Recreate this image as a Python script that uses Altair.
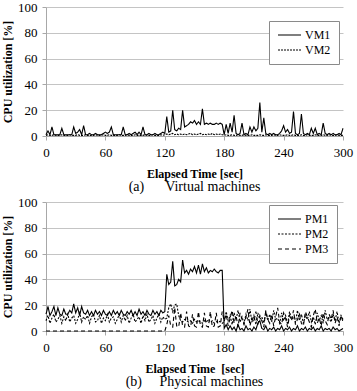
import altair as alt
import pandas as pd

STEP = 2  # seconds between samples
X_TICKS = [0, 60, 120, 180, 240, 300]
Y_TICKS = [0, 20, 40, 60, 80, 100]
VM_NAMES = ["VM1", "VM2"]
PM_NAMES = ["PM1", "PM2", "PM3"]

VM1 = [1, 4, 1, 7, 1, 1, 1, 1, 6, 1,
       1, 1, 1, 1, 7, 2, 3, 5, 1, 8,
       1, 1, 2, 1, 1, 2, 1, 1, 1, 2,
       3, 2, 3, 7, 1, 1, 1, 1, 1, 7,
       1, 1, 2, 1, 2, 3, 1, 3, 1, 7,
       1, 1, 2, 1, 1, 2, 1, 1, 2, 3,
       2, 15, 3, 4, 20, 5, 4, 6, 5, 20,
       7, 8, 9, 11, 10, 12, 9, 11, 9, 21,
       9, 10, 9, 10, 9, 9, 10, 9, 10, 9,
       1, 9, 2, 10, 3, 16, 2, 1, 2, 10,
       1, 2, 1, 7, 3, 7, 4, 6, 26, 3,
       14, 2, 1, 2, 1, 2, 1, 1, 2, 4,
       8, 3, 5, 2, 3, 19, 2, 1, 2, 17,
       2, 1, 2, 1, 6, 2, 6, 1, 2, 1,
       10, 2, 1, 2, 1, 2, 1, 1, 2, 1,
       6]

VM2 = [0.5, 1, 0.5, 0.5, 1, 0.5, 0.5, 0.5, 1, 0.5,
       0.5, 0.5, 1, 0.5, 0.5, 0.5, 1, 0.5, 0.5, 0.5,
       1, 0.5, 0.5, 0.5, 0.5, 1, 0.5, 0.5, 0.5, 1,
       0.5, 0.5, 1, 0.5, 0.5, 0.5, 0.5, 1, 0.5, 0.5,
       0.5, 1, 0.5, 0.5, 0.5, 1, 0.5, 0.5, 0.5, 0.5,
       1, 0.5, 0.5, 0.5, 1, 0.5, 0.5, 0.5, 1, 0.5,
       1, 1.5, 1, 1.5, 2, 1, 1.5, 1, 1.5, 1,
       1.5, 1, 1.5, 2, 1, 1.5, 1, 1.5, 2, 1,
       1.5, 1, 1.5, 1, 2, 1, 1.5, 1, 1.5, 1,
       0.5, 1, 0.5, 0.5, 1, 0.5, 0.5, 1, 0.5, 0.5,
       1, 0.5, 0.5, 0.5, 1, 0.5, 0.5, 0.5, 1, 0.5,
       0.5, 1, 0.5, 0.5, 0.5, 1, 0.5, 0.5, 1, 0.5,
       0.5, 0.5, 1, 0.5, 0.5, 1, 0.5, 0.5, 0.5, 1,
       0.5, 0.5, 1, 0.5, 0.5, 0.5, 1, 0.5, 0.5, 0.5,
       1, 0.5, 0.5, 1, 0.5, 0.5, 0.5, 1, 0.5, 0.5,
       0.5]

PM1 = [13, 19, 12, 15, 19, 12, 18, 13, 12, 17,
       13, 13, 16, 14, 21, 14, 18, 12, 19, 14,
       13, 16, 12, 15, 12, 16, 13, 15, 12, 16,
       13, 12, 15, 12, 16, 13, 15, 12, 16, 13,
       12, 15, 13, 16, 12, 15, 12, 17, 13, 15,
       12, 16, 13, 12, 16, 13, 15, 12, 16, 14,
       15, 44, 36, 38, 54, 35, 36, 40, 38, 55,
       45, 47, 44, 48, 46, 50, 45, 51, 44, 52,
       46, 49, 45, 47, 46, 48, 46, 45, 47, 47,
       2, 5, 1, 4, 1, 3, 0, 5, 1, 2,
       0, 4, 1, 2, 0, 3, 1, 6, 8, 2,
       1, 4, 0, 2, 1, 3, 0, 2, 1, 4,
       0, 2, 1, 3, 0, 2, 1, 4, 0, 2,
       1, 3, 0, 2, 1, 3, 0, 2, 1, 4,
       0, 2, 1, 2, 0, 3, 1, 2, 0, 1,
       2]

PM2 = [8, 12, 6, 10, 13, 7, 9, 12, 6, 11,
       8, 13, 7, 10, 12, 6, 9, 14, 7, 11,
       9, 12, 6, 11, 13, 7, 8, 12, 6, 10,
       8, 13, 7, 10, 11, 6, 9, 13, 7, 12,
       8, 12, 6, 10, 13, 7, 9, 11, 6, 12,
       8, 13, 7, 9, 12, 6, 10, 13, 7, 11,
       9, 10, 18, 21, 15, 20, 21, 12, 8, 7,
       9, 8, 7, 8, 6, 9, 7, 8, 7, 6,
       8, 7, 9, 7, 8, 6, 7, 8, 7, 6,
       7, 15, 8, 12, 5, 14, 9, 16, 7, 11,
       6, 13, 8, 17, 7, 12, 5, 14, 9, 11,
       6, 15, 8, 13, 7, 16, 9, 10, 6, 14,
       8, 12, 5, 15, 9, 11, 7, 16, 8, 13,
       6, 12, 9, 15, 7, 11, 5, 14, 8, 12,
       6, 16, 9, 10, 7, 13, 8, 15, 6, 12,
       9]

PM3 = [0, 0, 0, 0, 0, 0, 0, 0, 0, 0,
       0, 0, 0, 0, 0, 0, 0, 0, 0, 0,
       0, 0, 0, 0, 0, 0, 0, 0, 0, 0,
       0, 0, 0, 0, 0, 0, 0, 0, 0, 0,
       0, 0, 0, 0, 0, 0, 0, 0, 0, 0,
       0, 0, 0, 0, 0, 0, 0, 0, 0, 0,
       0, 5, 12, 4, 3, 18, 4, 3, 14, 4,
       3, 15, 4, 3, 13, 4, 3, 15, 4, 3,
       14, 4, 3, 15, 3, 4, 14, 3, 4, 15,
       8, 13, 4, 10, 16, 6, 12, 3, 14, 9,
       5, 11, 17, 4, 10, 7, 15, 5, 12, 8,
       3, 16, 9, 6, 13, 4, 11, 18, 7, 5,
       14, 10, 3, 12, 8, 16, 5, 9, 13, 6,
       4, 15, 11, 7, 3, 12, 17, 6, 10, 4,
       14, 8, 5, 13, 9, 16, 6, 11, 4, 12,
       7]

FONT = "Liberation Serif"
NB = "\u00a0"


def frame(names, series):
    rows = []
    for name, vals in zip(names, series):
        for i, v in enumerate(vals):
            rows.append({"t": i * STEP, "cpu": v, "series": name})
    return pd.DataFrame(rows)


def panel(df, names, dashes, caption, xtitle, legend_y):
    return alt.Chart(df).mark_line(color="#000000", strokeWidth=1.1).encode(
        x=alt.X("t:Q", scale=alt.Scale(domain=[0, 300], nice=False, zero=False),
                axis=alt.Axis(values=X_TICKS, title=xtitle, grid=False, tickSize=4,
                              labelPadding=6, titlePadding=9, labelFlush=False)),
        y=alt.Y("cpu:Q", scale=alt.Scale(domain=[0, 100], nice=False),
                axis=alt.Axis(values=Y_TICKS, title="CPU utilization [%]", grid=True,
                              tickSize=4, labelPadding=5, titlePadding=3)),
        strokeDash=alt.StrokeDash(
            "series:N", sort=names,
            scale=alt.Scale(domain=names, range=dashes),
            legend=alt.Legend(orient="none", legendX=223, legendY=legend_y, title=None)),
    ).properties(
        width=297, height=129,
        title=alt.TitleParams(caption, orient="bottom", offset=1),
    )


top = panel(frame(VM_NAMES, [VM1, VM2]), VM_NAMES, [[1, 0], [2, 1]],
            "(a)" + NB * 6 + "Virtual machines", "Elapsed Time [sec]", 14)
bottom = panel(frame(PM_NAMES, [PM1, PM2, PM3]), PM_NAMES, [[1, 0], [2, 1.5], [4, 3]],
               "(b)" + NB * 5 + "Physical machines", "Elapsed Time" + NB * 2 + "[sec]", 3)

chart = alt.vconcat(top, bottom, spacing=66, bounds="flush").resolve_scale(
    strokeDash="independent"
).resolve_legend(
    strokeDash="independent"
).properties(
    padding={"left": 1, "top": 1, "right": 4, "bottom": 2},
    background="white",
).configure_view(stroke=None).configure_axis(
    labelFont=FONT, labelFontSize=13, labelColor="#000000",
    titleFont=FONT, titleFontSize=12, titleFontWeight="bold", titleColor="#000000",
    domainColor="#a8a8a8", tickColor="#a8a8a8", gridColor="#c4c4c4", gridWidth=1,
).configure_legend(
    labelFont=FONT, labelFontSize=12, labelColor="#000000",
    symbolType="stroke", symbolSize=529, symbolStrokeWidth=1.1,
    symbolStrokeColor="#000000", clipHeight=12, rowPadding=3, labelOffset=3,
    padding=8, strokeColor="#8a8a8a", fillColor="white", cornerRadius=0,
).configure_title(
    font=FONT, fontSize=14, fontWeight="normal", color="#000000", anchor="middle",
)

chart.save("out.html", embed_options={"renderer": "svg", "actions": False})
